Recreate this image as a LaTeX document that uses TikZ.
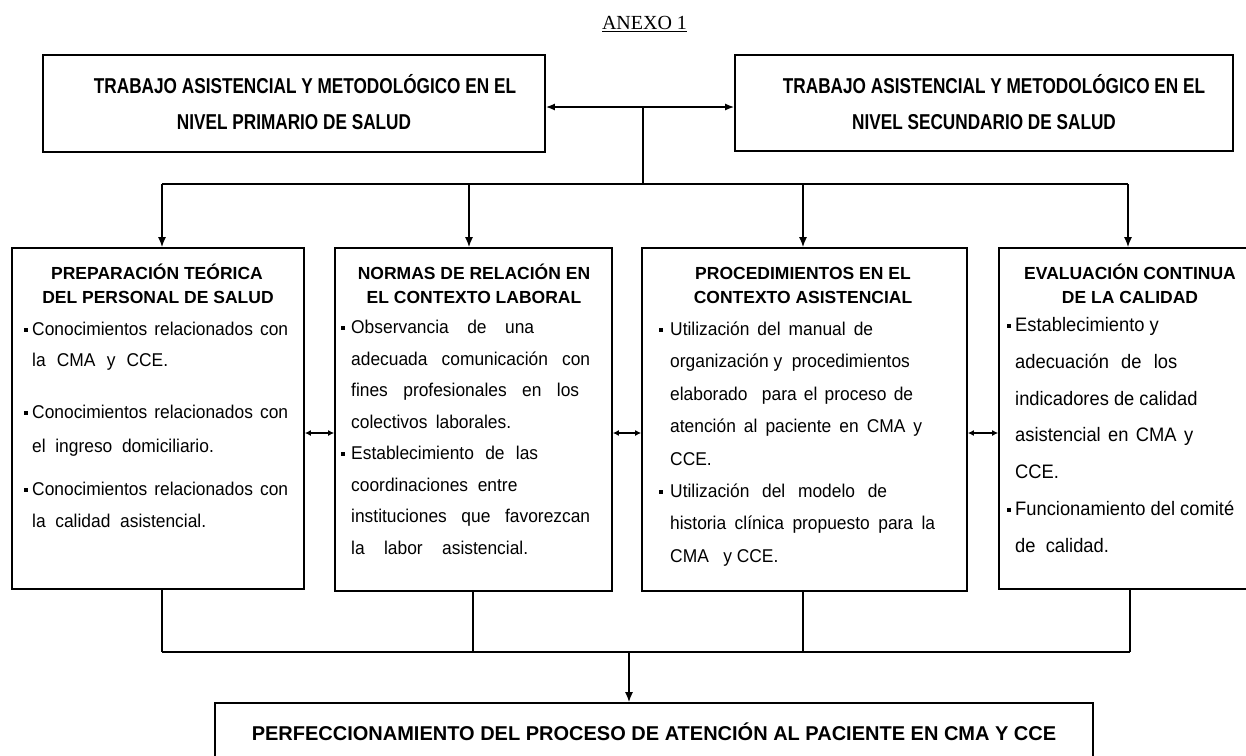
\documentclass[tikz,border=0pt]{standalone}
\usepackage{fontspec}
\setmainfont{Liberation Sans}
\newfontfamily\narrowsans{Liberation Sans}[FakeStretch=0.8]
\newfontfamily\bodysans{Liberation Sans}[FakeStretch=0.94]
\newfontfamily\serifface{Liberation Serif}
\usetikzlibrary{arrows.meta}
\newcommand{\bul}[1][8pt]{\makebox[#1][l]{\rule[3.2pt]{4pt}{4pt}}}
\newcommand{\jl}[2]{\makebox[#1][s]{#2}}
\begin{document}
\begin{tikzpicture}[x=1pt,y=-1pt,
  box/.style={draw, line width=1.7pt, inner sep=0pt},
  conn/.style={line width=1.5pt},
  arr/.style={conn, -{Latex[length=10pt,width=8pt]}},
  darr/.style={conn, {Latex[length=6pt,width=6pt]}-{Latex[length=6pt,width=6pt]}},
  tarr/.style={conn, {Latex[length=9pt,width=7pt]}-{Latex[length=9pt,width=7pt]}},
  toptxt/.style={anchor=base, inner sep=0pt, font=\narrowsans\bfseries\fontsize{21.5}{24}\selectfont},
  ttl/.style={anchor=base, inner sep=0pt, font=\bfseries\fontsize{17.5}{20}\selectfont},
  bodyA/.style={anchor=base west, inner sep=0pt, font=\bodysans\fontsize{18.5}{20}\selectfont},
  bodyB/.style={anchor=base west, inner sep=0pt, font=\bodysans\fontsize{19.5}{21}\selectfont},
  bottxt/.style={anchor=base, inner sep=0pt, font=\bfseries\fontsize{20}{24}\selectfont},
]
\useasboundingbox (0,0) rectangle (1246,755);
\fill[white] (0,0) rectangle (1246,755);

% title
\node[anchor=base, inner sep=0pt, font=\serifface\fontsize{20}{24}\selectfont] (anexo) at (644.5,29.6) {\underline{ANEXO 1}};

% top boxes
\node[box, minimum width=502pt, minimum height=97pt] (tl) at (294,103.5) {};
\node[box, minimum width=498pt, minimum height=96pt] (tr) at (984,103) {};
\node[toptxt] (tl1) at (305,93.7) {TRABAJO ASISTENCIAL Y METODOLÓGICO EN EL};
\node[toptxt] (tl2) at (294,129.7) {NIVEL PRIMARIO DE SALUD};
\node[toptxt] (tr1) at (994,93.7) {TRABAJO ASISTENCIAL Y METODOLÓGICO EN EL};
\node[toptxt] (tr2) at (984,129.7) {NIVEL SECUNDARIO DE SALUD};

% middle boxes
\node[box, minimum width=292pt, minimum height=341pt] (b1) at (158,418.5) {};
\node[box, minimum width=277pt, minimum height=343pt] (b2) at (473.5,419.5) {};
\node[box, minimum width=325pt, minimum height=343pt] (b3) at (804.5,419.5) {};
\node[box, minimum width=261pt, minimum height=341pt] (b4) at (1129.5,418.5) {};

% bottom box
\node[box, minimum width=878pt, minimum height=67pt] (bb) at (654,736.5) {};
\node[bottxt] (bbt) at (654,740.2) {PERFECCIONAMIENTO DEL PROCESO DE ATENCIÓN AL PACIENTE EN CMA Y CCE};

% box 1 text
\node[ttl] (b1t1) at (157,279.3) {PREPARACIÓN TEÓRICA};
\node[ttl] (b1t2) at (158,303.3) {DEL PERSONAL DE SALUD};
\node[bodyA] (b1l1) at (24,335) {\bul\jl{256pt}{Conocimientos relacionados con}};
\node[bodyA] (b1l2) at (32,366) {\jl{136pt}{la CMA y CCE.}};
\node[bodyA] (b1l3) at (24,418) {\bul\jl{256pt}{Conocimientos relacionados con}};
\node[bodyA] (b1l4) at (32,452) {el\ \ ingreso\ \ domiciliario.};
\node[bodyA] (b1l5) at (24,495) {\bul\jl{256pt}{Conocimientos relacionados con}};
\node[bodyA] (b1l6) at (32,527) {\jl{174pt}{la calidad asistencial.}};

% box 2 text
\node[ttl] (b2t1) at (474,279.3) {NORMAS DE RELACIÓN EN};
\node[ttl] (b2t2) at (474,303.3) {EL CONTEXTO LABORAL};
\node[bodyA] (b2l1) at (341,333) {\bul[10pt]\jl{183pt}{Observancia de una}};
\node[bodyA] (b2l2) at (351,365) {\jl{239pt}{adecuada comunicación con}};
\node[bodyA] (b2l3) at (351,396) {\jl{228pt}{fines profesionales en los}};
\node[bodyA] (b2l4) at (351,428) {\jl{160pt}{colectivos laborales.}};
\node[bodyA] (b2l5) at (341,459) {\bul[10pt]\jl{187pt}{Establecimiento de las}};
\node[bodyA] (b2l6) at (351,491) {coordinaciones\ \ entre};
\node[bodyA] (b2l7) at (351,522) {\jl{239pt}{instituciones que favorezcan}};
\node[bodyA] (b2l8) at (351,554) {\jl{177pt}{la labor asistencial.}};

% box 3 text
\node[ttl] (b3t1) at (803,279.3) {PROCEDIMIENTOS EN EL};
\node[ttl] (b3t2) at (803,303.3) {CONTEXTO ASISTENCIAL};
\node[bodyA] (b3l1) at (659,335) {\bul[11pt]\jl{203pt}{Utilización del manual de}};
\node[bodyA] (b3l2) at (670,367) {organización y\ \ procedimientos};
\node[bodyA] (b3l3) at (670,400) {\jl{243pt}{elaborado\ \ para el proceso de}};
\node[bodyA] (b3l4) at (670,432) {\jl{252pt}{atención al paciente en CMA y}};
\node[bodyA] (b3l5) at (670,465) {CCE.};
\node[bodyA] (b3l6) at (659,497) {\bul[11pt]\jl{217pt}{Utilización del modelo de}};
\node[bodyA] (b3l7) at (670,529) {\jl{265pt}{historia clínica propuesto para la}};
\node[bodyA] (b3l8) at (670,562) {CMA\ \ \ y CCE.};

% box 4 text
\node[ttl] (b4t1) at (1130,279.3) {EVALUACIÓN CONTINUA};
\node[ttl] (b4t2) at (1130,303.3) {DE LA CALIDAD};
\node[bodyB] (b4l1) at (1007,331) {\bul Establecimiento y};
\node[bodyB] (b4l2) at (1015,368) {\jl{162pt}{adecuación de los}};
\node[bodyB] (b4l3) at (1015,405) {indicadores de calidad};
\node[bodyB] (b4l4) at (1015,441) {\jl{178pt}{asistencial en CMA y}};
\node[bodyB] (b4l5) at (1015,478) {CCE.};
\node[bodyB] (b4l6) at (1007,515) {\bul Funcionamiento del comité};
\node[bodyB] (b4l7) at (1015,552) {de\ \ calidad.};

% junction coordinates
\coordinate (jtop) at (643,107);
\coordinate (jmid) at (643,184);
\coordinate (d1) at (162,184);
\coordinate (d2) at (469,184);
\coordinate (d3) at (803,184);
\coordinate (d4) at (1128,184);
\coordinate (c1) at (162,652);
\coordinate (c2) at (473,652);
\coordinate (c3) at (803,652);
\coordinate (c4) at (1130,652);
\coordinate (cb) at (629,652);
\coordinate (mid) at (0,433);

% connectors top
\draw[tarr] (tl.east |- jtop) -- (tr.west |- jtop);
\draw[conn] (jtop) -- (jmid);
\draw[conn] (d1) -- (d4);
\draw[arr] (d1) -- (d1 |- b1.north);
\draw[arr] (d2) -- (d2 |- b2.north);
\draw[arr] (d3) -- (d3 |- b3.north);
\draw[arr] (d4) -- (d4 |- b4.north);

% side double arrows
\draw[darr] (b1.east |- mid) -- (b2.west |- mid);
\draw[darr] (b2.east |- mid) -- (b3.west |- mid);
\draw[darr] (b3.east |- mid) -- (b4.west |- mid);

% collector
\draw[conn] (b1.south -| c1) -- (c1);
\draw[conn] (b2.south -| c2) -- (c2);
\draw[conn] (b3.south -| c3) -- (c3);
\draw[conn] (b4.south -| c4) -- (c4);
\draw[conn] (c1) -- (c4);
\draw[arr] (cb) -- (cb |- bb.north);
\end{tikzpicture}
\end{document}
